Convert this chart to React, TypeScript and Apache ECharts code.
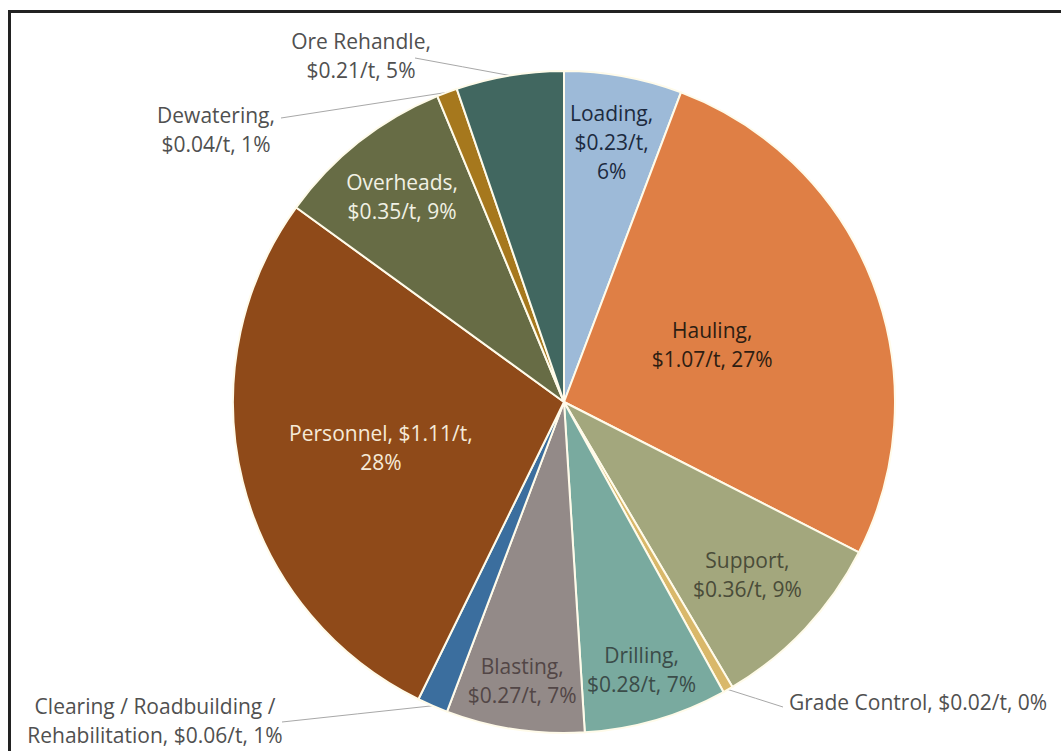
import React, { useEffect, useRef } from "react";
import * as echarts from "echarts";

// ---- data ----
const categories = [
  "Loading",
  "Hauling",
  "Support",
  "Grade Control",
  "Drilling",
  "Blasting",
  "Clearing / Roadbuilding / Rehabilitation",
  "Personnel",
  "Overheads",
  "Dewatering",
  "Ore Rehandle",
];
const costPerTonne = [0.23, 1.07, 0.36, 0.02, 0.28, 0.27, 0.06, 1.11, 0.35, 0.04, 0.21];
const percentShares = [6, 27, 9, 0, 7, 7, 1, 28, 9, 1, 5];

// ---- styling / layout (not data) ----
const sliceColors = [
  "#9dbad8",
  "#df7f45",
  "#a3a77d",
  "#d9b86a",
  "#79aa9f",
  "#938a88",
  "#3b6e9e",
  "#8f4a19",
  "#676c45",
  "#a6781d",
  "#416760",
];
const labelColors = [
  "#1c2a3f",
  "#2d1d12",
  "#4a4c39",
  "#505050",
  "#3b4c49",
  "#524646",
  "#505050",
  "#f6ead8",
  "#f1f1e4",
  "#505050",
  "#505050",
];
const displayNames = [
  "Loading",
  "Hauling",
  "Support",
  "Grade Control",
  "Drilling",
  "Blasting",
  "Clearing / Roadbuilding /\nRehabilitation",
  "Personnel",
  "Overheads",
  "Dewatering",
  "Ore Rehandle",
];
const breaks: [string, string][] = [
  ["\n", "\n"],
  ["\n", " "],
  ["\n", " "],
  [" ", " "],
  ["\n", " "],
  ["\n", " "],
  [" ", " "],
  [" ", "\n"],
  ["\n", " "],
  ["\n", " "],
  ["\n", " "],
];
// radial fraction for labels drawn inside the slice (null = outside label)
const insideRadius: (number | null)[] = [0.8, 0.48, 0.76, null, 0.84, 0.85, null, 0.57, 0.79, null, null];
// anchor for outside labels: [x, y, align, lineStartX, lineStartY]
const outsideAnchor: Record<number, [number, number, string, number, number]> = {
  3: [789, 702, "left", 783, 707],
  6: [155, 720, "center", 282, 722],
  9: [216, 129, "center", 281, 118],
  10: [361, 55, "center", 415, 58],
};

const CX = 564;
const CY = 402;
const R = 331;

export default function App() {
  const ref = useRef<HTMLDivElement>(null);
  useEffect(() => {
    document.body.style.margin = "0";
    if (!ref.current) return;
    const chart = echarts.init(ref.current, undefined, { renderer: "svg" });
    const total = costPerTonne.reduce((a, b) => a + b, 0);
    const midAngles: number[] = [];
    let acc = 0;
    costPerTonne.forEach((v) => {
      midAngles.push(((acc + v / 2) / total) * Math.PI * 2);
      acc += v;
    });
    const labelText = (i: number) =>
      `${displayNames[i]},${breaks[i][0]}$${costPerTonne[i].toFixed(2)}/t,${breaks[i][1]}${percentShares[i]}%`;

    const data = categories.map((name, i) => {
      const inside = insideRadius[i] !== null;
      return {
        name,
        value: costPerTonne[i],
        itemStyle: { color: sliceColors[i] },
        label: {
          show: true,
          position: inside ? "inside" : "outside",
          formatter: labelText(i),
          color: labelColors[i],
          fontSize: 21,
          lineHeight: 29,
          fontFamily: "Open Sans",
        },
        labelLine: {
          show: !inside,
          lineStyle: { color: "#a8a8a8", width: 1 },
        },
      };
    });

    chart.setOption({
      animation: false,
      backgroundColor: "#ffffff",
      graphic: [
        {
          type: "rect",
          shape: { x: 9.5, y: 11.5, width: 1200, height: 900 },
          style: { fill: "none", stroke: "#222222", lineWidth: 3 },
          z: 100,
        },
      ],
      series: [
        {
          type: "pie",
          center: [CX, CY],
          radius: [0, R],
          startAngle: 90,
          clockwise: true,
          avoidLabelOverlap: false,
          itemStyle: { borderColor: "#fffbea", borderWidth: 2 },
          labelLine: { length: 10, length2: 10 },
          labelLayout: (params: any) => {
            const i = params.dataIndex;
            const a = midAngles[i];
            const rf = insideRadius[i];
            if (rf !== null) {
              return {
                x: CX + rf * R * Math.sin(a),
                y: CY - rf * R * Math.cos(a),
                align: "center",
                verticalAlign: "middle",
              };
            }
            const [x, y, align, lx, ly] = outsideAnchor[i];
            const ex = CX + R * Math.sin(a);
            const ey = CY - R * Math.cos(a);
            return {
              x,
              y,
              align,
              verticalAlign: "middle",
              labelLinePoints: [
                [ex, ey],
                [(ex + lx) / 2, (ey + ly) / 2],
                [lx, ly],
              ],
            };
          },
          data,
        },
      ],
    });
    return () => chart.dispose();
  }, []);
  return <div ref={ref} style={{ width: 1061, height: 751 }} />;
}
